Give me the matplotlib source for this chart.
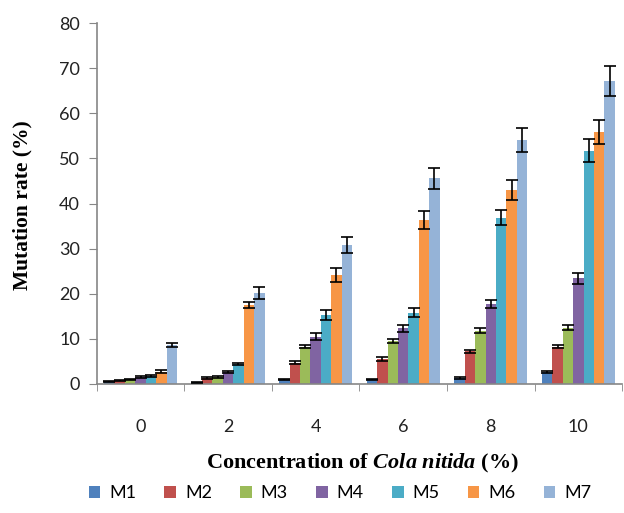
import numpy as np
import matplotlib
matplotlib.use("Agg")
import matplotlib.pyplot as plt

concentrations = ["0", "2", "4", "6", "8", "10"]
series = ["M1", "M2", "M3", "M4", "M5", "M6", "M7"]

# mean mutation rate (%) per series, one value per concentration
m1 = [0.5, 0.4, 0.9, 1.0, 1.4, 2.7]
m2 = [0.7, 1.3, 4.7, 5.5, 7.2, 8.3]
m3 = [1.0, 1.5, 8.3, 9.5, 11.8, 12.5]
m4 = [1.6, 2.7, 10.5, 12.3, 17.7, 23.4]
m5 = [1.8, 4.4, 15.3, 15.8, 36.9, 51.7]
m6 = [2.7, 17.5, 24.2, 36.3, 43.0, 55.9]
m7 = [8.6, 20.1, 30.8, 45.6, 54.1, 67.2]

# error bar half-lengths
e1 = [0.1, 0.1, 0.1, 0.2, 0.2, 0.2]
e2 = [0.1, 0.2, 0.3, 0.4, 0.3, 0.4]
e3 = [0.1, 0.2, 0.4, 0.5, 0.5, 0.5]
e4 = [0.2, 0.2, 0.7, 0.7, 0.85, 1.3]
e5 = [0.2, 0.3, 1.1, 1.0, 1.7, 2.5]
e6 = [0.3, 0.7, 1.5, 2.0, 2.2, 2.7]
e7 = [0.4, 1.3, 1.8, 2.3, 2.6, 3.3]

values = [m1, m2, m3, m4, m5, m6, m7]
errors = [e1, e2, e3, e4, e5, e6, e7]
colors = ["#4F81BD", "#C0504D", "#9BBB59", "#8064A2", "#4BACC6", "#F79646", "#95B3D7"]

fig = plt.figure(figsize=(6.24, 5.13), dpi=100)
ax = fig.add_axes([0.155, 0.2515, 0.842, 0.7035])

x = np.arange(len(concentrations))
w = 0.119
for i, (name, vals, errs, c) in enumerate(zip(series, values, errors, colors)):
    pos = x + (i - 3) * w
    ax.bar(pos, vals, width=w, color=c, label=name, zorder=2)
    ax.errorbar(pos, vals, yerr=errs, fmt="none", ecolor="black",
                elinewidth=1.2, capsize=4.5, capthick=1.2, zorder=3)

ax.set_xlim(-0.5, len(concentrations) - 0.5)
ax.set_ylim(0, 80)
ax.set_yticks(range(0, 81, 10))
ax.set_xticks(x)
ax.set_xticklabels(concentrations)
ax.set_xticks(np.arange(-0.5, len(concentrations), 1), minor=True)
ax.tick_params(axis="x", which="major", length=0, pad=25)
ax.tick_params(axis="x", which="minor", length=5, color="#868686", direction="out")
ax.tick_params(axis="y", length=6, color="#868686", direction="out", pad=6)

for lab in ax.get_xticklabels() + ax.get_yticklabels():
    lab.set_fontfamily("Lato")
    lab.set_fontsize(13)
    lab.set_color("#222222")

for s in ["top", "right"]:
    ax.spines[s].set_visible(False)
for s in ["left", "bottom"]:
    ax.spines[s].set_color("#868686")
    ax.spines[s].set_linewidth(1.2)

plt.rcParams["mathtext.fontset"] = "custom"
plt.rcParams["mathtext.rm"] = "Liberation Serif:bold"
plt.rcParams["mathtext.it"] = "Liberation Serif:italic:bold"

fig.text(362 / 624, 1 - 463 / 513, r"Concentration of $Cola\ nitida$ (%)",
         ha="center", va="center", fontfamily="Liberation Serif",
         fontweight="bold", fontsize=16)
fig.text(22 / 624, 1 - 205 / 513, "Mutation rate (%)", rotation=90,
         ha="center", va="center", fontfamily="Liberation Serif",
         fontweight="bold", fontsize=15.5)

fig.legend(loc="center", bbox_to_anchor=(340 / 624, 1 - 493 / 513), ncol=7,
           frameon=False, handlelength=0.65, handleheight=0.65, handletextpad=0.5,
           columnspacing=1.55, prop={"family": "Lato", "size": 13})

fig.savefig("out.png", dpi=100)
